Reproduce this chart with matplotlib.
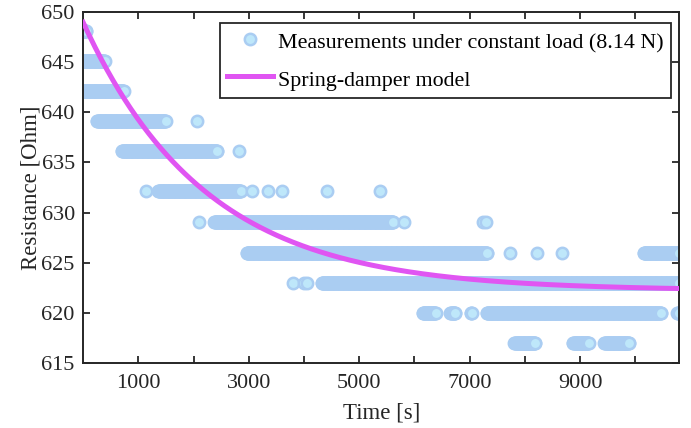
import numpy as np
import matplotlib
matplotlib.use("Agg")
import matplotlib.pyplot as plt

plt.rcParams['font.family'] = ['Liberation Serif', 'DejaVu Serif']
plt.rcParams['mathtext.fontset'] = 'stix'

# ---------------- data ----------------
# quantised resistance levels [Ohm]
levels = [648.1, 645.1, 642.1, 639.1, 636.1, 632.1, 629.1, 626.0, 623.0, 620.0, 617.0]

# dense runs of measurements (start, end) in seconds for each level
runs_648 = [(0, 60)]
runs_645 = [(0, 390)]
runs_642 = [(0, 740)]
runs_639 = [(250, 1500)]
runs_636 = [(700, 2430)]
runs_632 = [(1360, 2860)]
runs_629 = [(2370, 5620)]
runs_626 = [(2960, 7320), (10150, 10800)]
runs_623 = [(4320, 10800)]
runs_620 = [(6150, 6390), (6650, 6740), (7020, 7040), (7310, 10470), (10760, 10800)]
runs_617 = [(7810, 8190), (8870, 9160), (9440, 9890)]

# isolated measurements (s) for each level
single_639 = [2060]
single_636 = [2820]
single_632 = [1140, 3060, 3345, 3610, 4425, 5376]
single_629 = [2100, 5818, 7240, 7290]
single_626 = [7740, 8225, 8667]
single_623 = [3800, 4000, 4060]

sample_period = 10  # s, measurement interval within a dense run

# spring-damper model parameters
R_inf = 622.2   # Ohm
R_0 = 649.0     # Ohm
tau = 2220.0    # s
t_end = 10800   # s

all_runs = [runs_648, runs_645, runs_642, runs_639, runs_636, runs_632,
            runs_629, runs_626, runs_623, runs_620, runs_617]
all_single = [[], [], [], single_639, single_636, single_632,
              single_629, single_626, single_623, [], []]

t_meas, r_meas = [], []
for lev, runs, singles in zip(levels, all_runs, all_single):
    ts = []
    for a, b in runs:
        ts.extend(np.arange(a, b + 1, sample_period))
    ts.extend(singles)
    ts = np.sort(np.array(ts, dtype=float))
    t_meas.append(ts)
    r_meas.append(np.full_like(ts, lev))
t_meas = np.concatenate(t_meas)
r_meas = np.concatenate(r_meas)
order = np.argsort(t_meas, kind='stable')
t_meas, r_meas = t_meas[order], r_meas[order]

t_model = np.linspace(0, t_end, 600)
r_model = R_inf + (R_0 - R_inf) * np.exp(-t_model / tau)

# ---------------- figure ----------------
fig = plt.figure(figsize=(6.91, 4.28), dpi=100)
ax = fig.add_axes([0.1203, 0.1526, 0.8630, 0.8187])

ax.plot(t_meas, r_meas, linestyle='none', marker='o', markersize=8.2,
        markerfacecolor='#BEE7FA', markeredgecolor='#AACDF2', markeredgewidth=1.8,
        label='Measurements under constant load (8.14 N)', zorder=2)
ax.plot(t_model, r_model, color='#E055F2', linewidth=3.6,
        label='Spring-damper model', zorder=3)

ax.set_xlim(0, 10800)
ax.set_ylim(615, 650)
xt = list(range(1000, 10001, 1000))
ax.set_xticks(xt)
ax.set_xticklabels([str(v) if (v // 1000) % 2 == 1 else '' for v in xt])
ax.set_yticks(range(615, 651, 5))

dark = '#262626'
for s in ax.spines.values():
    s.set_linewidth(1.4)
    s.set_color(dark)
ax.tick_params(direction='in', top=True, right=True, length=5, width=1.3,
               labelsize=16, colors=dark)
ax.tick_params(axis='x', pad=8)
ax.tick_params(axis='y', pad=6)
ax.set_xlabel('Time [s]', fontsize=16.5, color=dark, labelpad=7)
ax.set_ylabel('Resistance [Ohm]', fontsize=16.5, color=dark, labelpad=0)

leg = ax.legend(loc='upper right', bbox_to_anchor=(0.9853, 0.9703),
                fontsize=15.8, frameon=True, fancybox=False,
                edgecolor=dark, framealpha=1, borderaxespad=0,
                handlelength=2.1, handletextpad=0.25, labelspacing=0.6,
                handleheight=1.3, borderpad=0.3, numpoints=1)
leg.get_frame().set_linewidth(1.3)

fig.savefig('out.png', dpi=100)
